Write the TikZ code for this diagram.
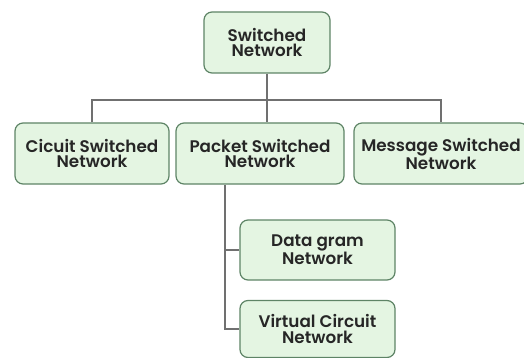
\documentclass[tikz,border=0pt]{standalone}
\usepackage{fontspec}
\setmainfont{Poppins}[BoldFont={Poppins SemiBold}]
\usetikzlibrary{positioning}
\definecolor{boxfill}{HTML}{E4F5E2}
\definecolor{boxline}{HTML}{5E8466}
\definecolor{linkgray}{HTML}{707070}

\begin{document}
\begin{tikzpicture}[x=1pt,y=-1pt,
    nd/.style={draw=boxline,line width=1.2pt,fill=boxfill,rounded corners=8pt,
      align=center,font=\fontsize{16.8}{15.5}\selectfont\bfseries,text=black!85,
      minimum height=61pt,inner sep=0pt},
    ln/.style={draw=linkgray,line width=1.6pt}]
\useasboundingbox (0,0) rectangle (524,358);
\node[nd,minimum width=126pt] (sw) at (267,42.5) {Switched\\Network};
\node[nd,minimum width=154pt] (cs) at (92,153.5) {Cicuit Switched\\Network};
\node[nd,minimum width=168pt] (ps) at (260,153.5) {Packet Switched\\Network};
\node[nd,minimum width=174pt] (ms) at (441,153.5) {Message Switched\\Network};
\node[nd,minimum width=155pt,minimum height=60pt] (dg) at (317.5,250) {Data gram\\Network};
\node[nd,minimum width=155pt,minimum height=57pt] (vc) at (317.5,329) {Virtual Circuit\\Network};
\coordinate (bus) at (267,100);
% top level
\draw[ln] (sw.south) -- (sw.south |- ps.north);
\draw[ln] (cs.north) |- (bus) -| (ms.north);
% packet switched branches
\draw[ln] ([xshift=-35pt]ps.south) |- (vc.west);
\draw[ln] ([xshift=-35pt]ps.south |- dg.west) -- (dg.west);
\end{tikzpicture}
\end{document}
